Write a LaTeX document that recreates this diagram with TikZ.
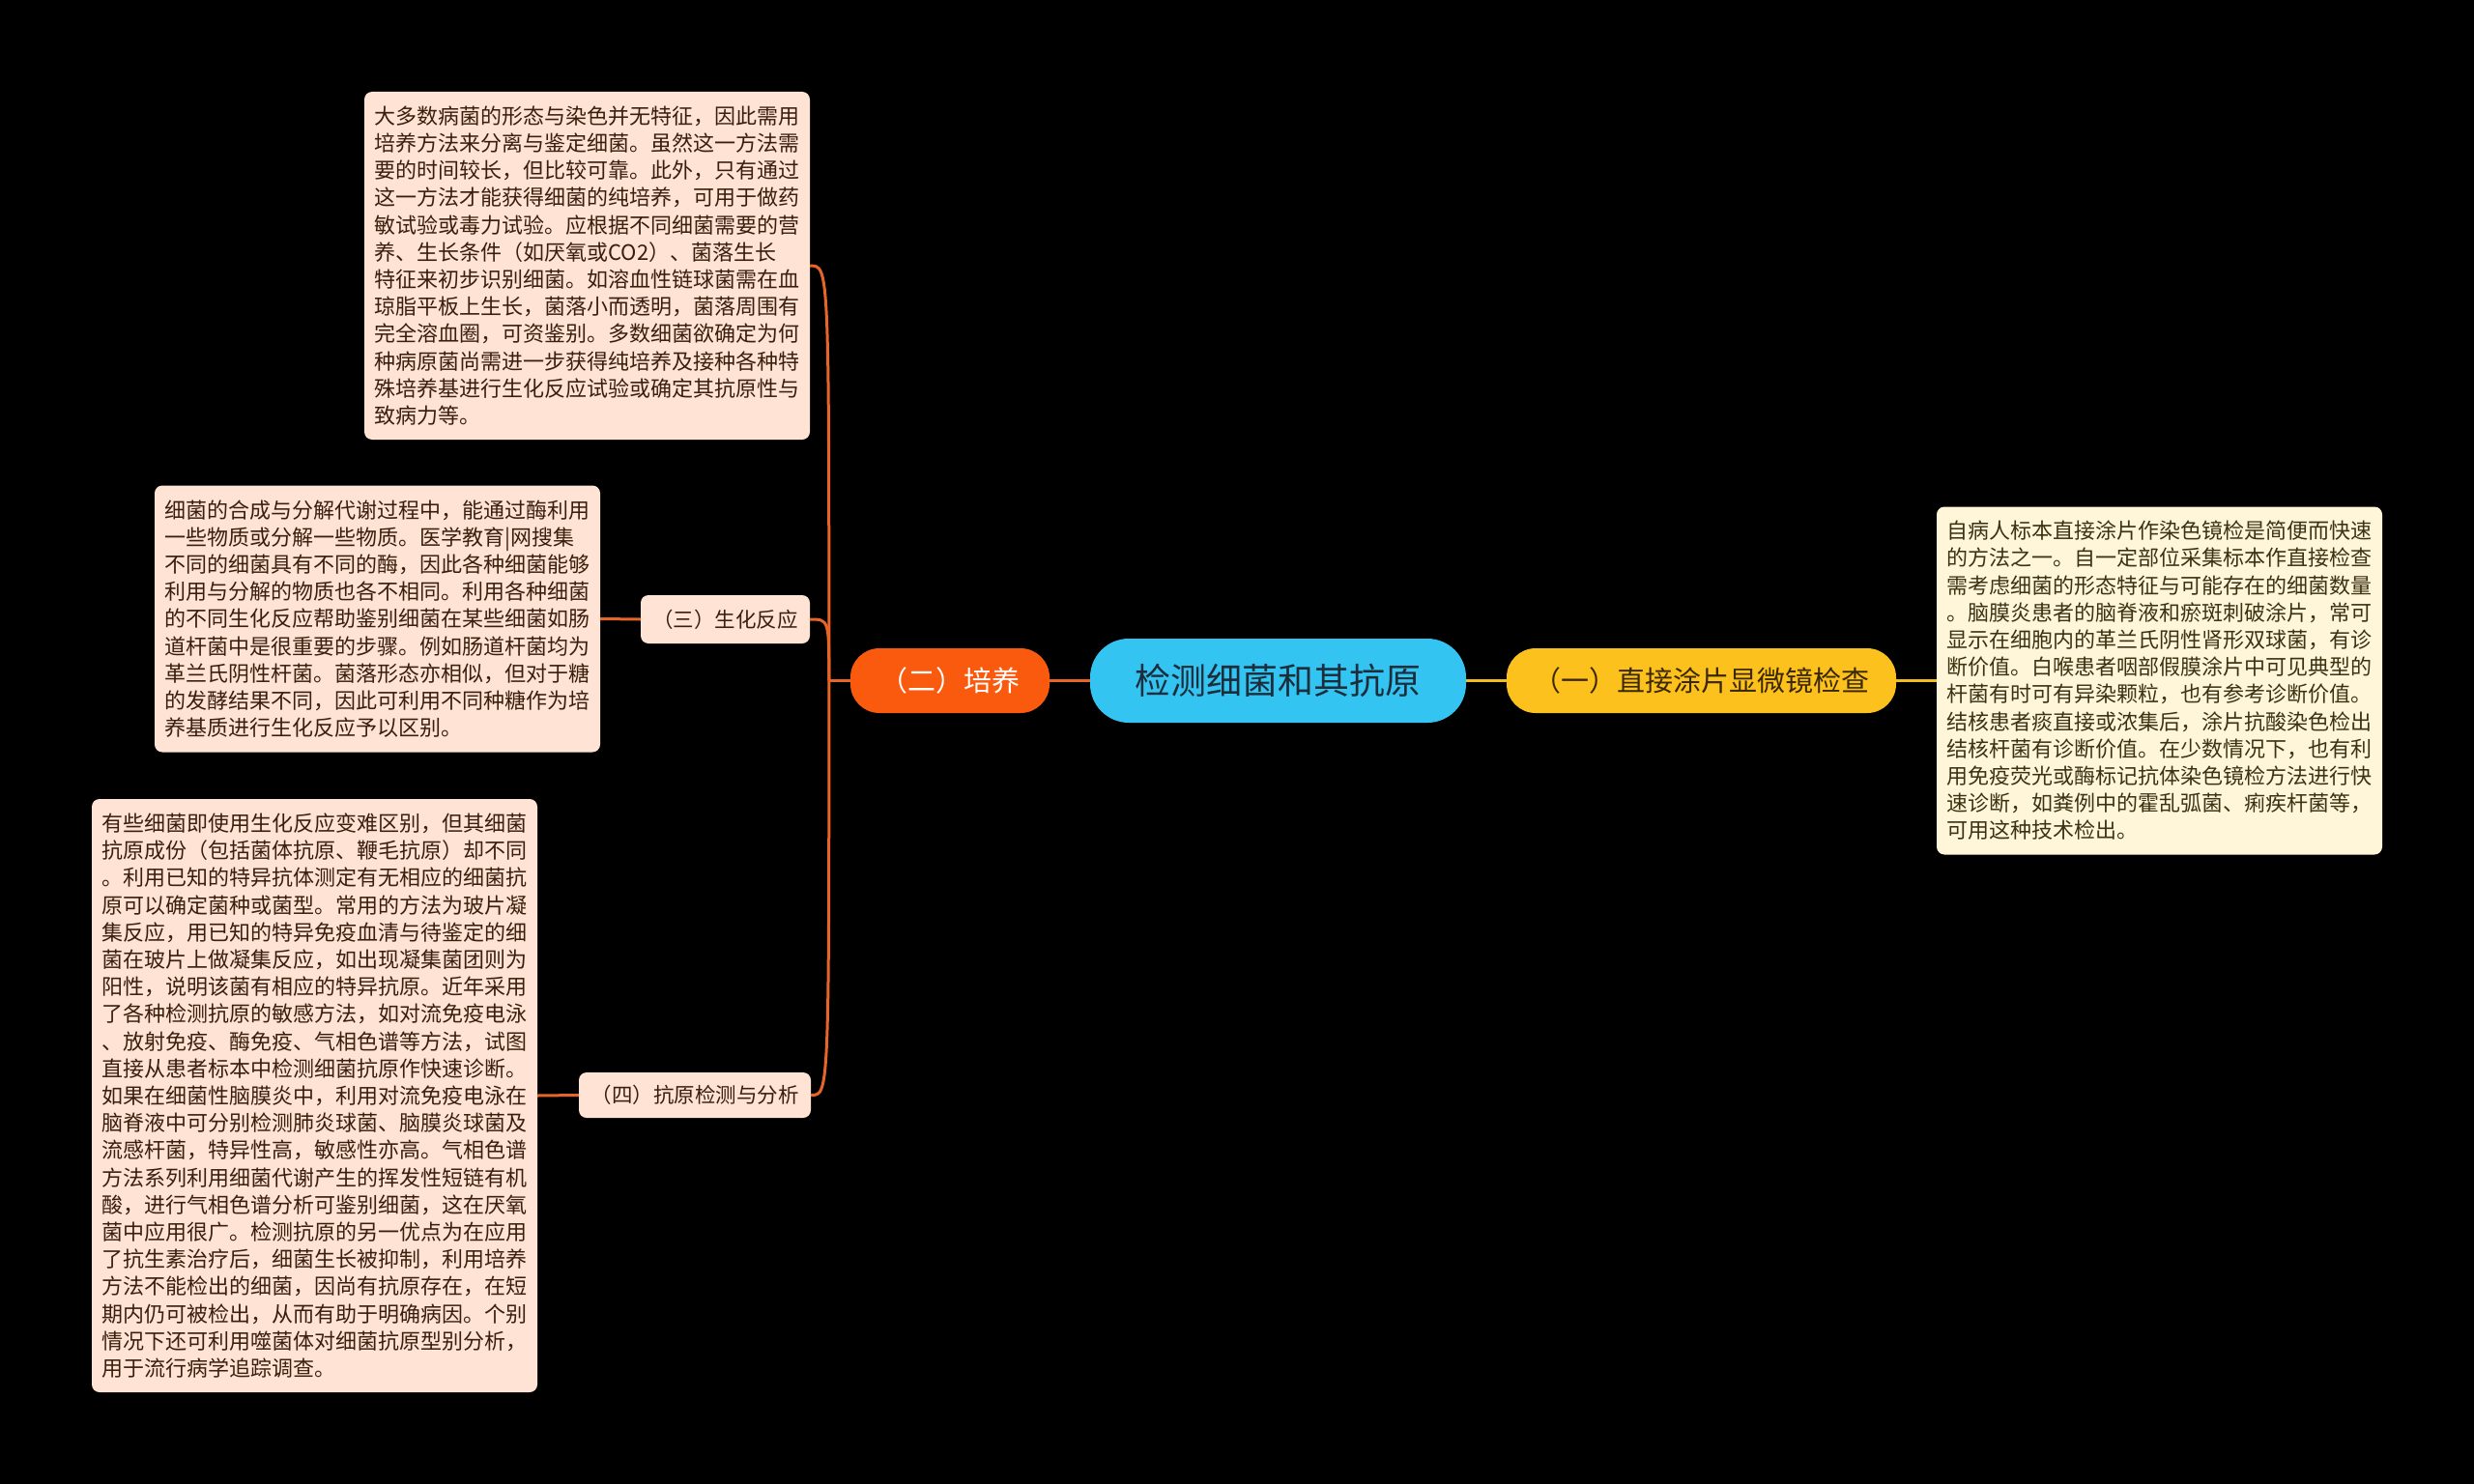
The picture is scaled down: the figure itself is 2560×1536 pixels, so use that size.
\documentclass[tikz,border=0pt]{standalone}
\usepackage{fontspec}
\newfontfamily\cjk{Noto Sans CJK SC}
\definecolor{bg}{HTML}{000000}
\definecolor{peach}{HTML}{FFE3D4}
\definecolor{cream}{HTML}{FFF5D8}
\definecolor{brownText}{HTML}{3A1E0E}
\definecolor{oliveText}{HTML}{3B3212}
\definecolor{rootFill}{HTML}{33C4F2}
\definecolor{rootText}{HTML}{1C2E3C}
\definecolor{orangeFill}{HTML}{FA5A0E}
\definecolor{yellowFill}{HTML}{FDC11D}
\definecolor{yellowText}{HTML}{3A2900}
\definecolor{orangeLine}{HTML}{E8652A}
\definecolor{yellowLine}{HTML}{F2BE1E}
\begin{document}
\begin{tikzpicture}[x=1pt,y=-1pt,
  textbox/.style={fill=peach, rounded corners=8pt, text width=440pt, align=left,
    inner xsep=10.5pt, inner ysep=0pt, text=brownText,
    font=\cjk\fontsize{22}{28.2}\selectfont},
  rightbox/.style={textbox, fill=cream, text=oliveText},
  rootnode/.style={fill=rootFill, rounded corners=40pt, minimum width=389pt,
    minimum height=87pt, inner sep=0pt, text=rootText, font=\cjk\fontsize{37}{44}\selectfont},
  mainnode/.style={rounded corners=30pt, minimum height=67pt, inner sep=0pt,
    font=\cjk\fontsize{29}{34}\selectfont},
  subnode/.style={fill=peach, rounded corners=8pt, inner sep=0pt, text=brownText,
    font=\cjk\fontsize{21.5}{26}\selectfont},
  oline/.style={draw=orangeLine, line width=3pt},
  yline/.style={draw=yellowLine, line width=3pt}
]
\fill[bg] (0,0) rectangle (2560,1536);
\useasboundingbox (0,0) rectangle (2560,1536);

% root and main branches
\node[rootnode] (root) at (1322.5,704.5) {检测细菌和其抗原};
\node[mainnode, fill=yellowFill, text=yellowText, minimum width=403pt] (one) at (1760.5,704.5) {（一）直接涂片显微镜检查};
\node[mainnode, fill=orangeFill, text=white, minimum width=206pt] (two) at (983,704.5) {（二）培养};
\node[subnode, minimum width=175pt, minimum height=50pt] (three) at (750.5,641) {（三）生化反应};
\node[subnode, minimum width=240pt, minimum height=47pt] (four) at (719,1133.5) {（四）抗原检测与分析};

% text boxes
\node[textbox, minimum height=360pt] (topbox) at (607.5,275) {大多数病菌的形态与染色并无特征，因此需用\\
培养方法来分离与鉴定细菌。虽然这一方法需\\
要的时间较长，但比较可靠。此外，只有通过\\
这一方法才能获得细菌的纯培养，可用于做药\\
敏试验或毒力试验。应根据不同细菌需要的营\\
养、生长条件（如厌氧或CO2）、菌落生长\\
特征来初步识别细菌。如溶血性链球菌需在血\\
琼脂平板上生长，菌落小而透明，菌落周围有\\
完全溶血圈，可资鉴别。多数细菌欲确定为何\\
种病原菌尚需进一步获得纯培养及接种各种特\\
殊培养基进行生化反应试验或确定其抗原性与\\
致病力等。};

\node[textbox, minimum height=276pt] (midbox) at (390.5,640.5) {细菌的合成与分解代谢过程中，能通过酶利用\\
一些物质或分解一些物质。医学教育|网搜集\\
不同的细菌具有不同的酶，因此各种细菌能够\\
利用与分解的物质也各不相同。利用各种细菌\\
的不同生化反应帮助鉴别细菌在某些细菌如肠\\
道杆菌中是很重要的步骤。例如肠道杆菌均为\\
革兰氏阴性杆菌。菌落形态亦相似，但对于糖\\
的发酵结果不同，因此可利用不同种糖作为培\\
养基质进行生化反应予以区别。};

\node[textbox, minimum height=614pt] (botbox) at (325.5,1134) {有些细菌即使用生化反应变难区别，但其细菌\\
抗原成份（包括菌体抗原、鞭毛抗原）却不同\\
。利用已知的特异抗体测定有无相应的细菌抗\\
原可以确定菌种或菌型。常用的方法为玻片凝\\
集反应，用已知的特异免疫血清与待鉴定的细\\
菌在玻片上做凝集反应，如出现凝集菌团则为\\
阳性，说明该菌有相应的特异抗原。近年采用\\
了各种检测抗原的敏感方法，如对流免疫电泳\\
、放射免疫、酶免疫、气相色谱等方法，试图\\
直接从患者标本中检测细菌抗原作快速诊断。\\
如果在细菌性脑膜炎中，利用对流免疫电泳在\\
脑脊液中可分别检测肺炎球菌、脑膜炎球菌及\\
流感杆菌，特异性高，敏感性亦高。气相色谱\\
方法系列利用细菌代谢产生的挥发性短链有机\\
酸，进行气相色谱分析可鉴别细菌，这在厌氧\\
菌中应用很广。检测抗原的另一优点为在应用\\
了抗生素治疗后，细菌生长被抑制，利用培养\\
方法不能检出的细菌，因尚有抗原存在，在短\\
期内仍可被检出，从而有助于明确病因。个别\\
情况下还可利用噬菌体对细菌抗原型别分析，\\
用于流行病学追踪调查。};

\node[rightbox, minimum height=360pt] (rightbox) at (2234.5,704.5) {自病人标本直接涂片作染色镜检是简便而快速\\
的方法之一。自一定部位采集标本作直接检查\\
需考虑细菌的形态特征与可能存在的细菌数量\\
。脑膜炎患者的脑脊液和瘀斑刺破涂片，常可\\
显示在细胞内的革兰氏阴性肾形双球菌，有诊\\
断价值。白喉患者咽部假膜涂片中可见典型的\\
杆菌有时可有异染颗粒，也有参考诊断价值。\\
结核患者痰直接或浓集后，涂片抗酸染色检出\\
结核杆菌有诊断价值。在少数情况下，也有利\\
用免疫荧光或酶标记抗体染色镜检方法进行快\\
速诊断，如粪例中的霍乱弧菌、痢疾杆菌等，\\
可用这种技术检出。};

% connectors
\draw[yline] (root.east) -- (one.west);
\draw[yline] (one.east) -- (rightbox.west);
\draw[oline] (root.west) -- (two.east);
\coordinate (trunk) at ([xshift=-22pt]two.west);
\draw[oline] (two.west) -- (trunk);
\draw[oline] (trunk) .. controls (trunk |- topbox.east) .. (topbox.east);
\draw[oline] (trunk) .. controls (trunk |- three.east) .. (three.east);
\draw[oline] (trunk) .. controls (trunk |- four.east) .. (four.east);
\draw[oline] (three.west) -- (midbox.east);
\draw[oline] (four.west) -- (botbox.east);
\end{tikzpicture}
\end{document}
